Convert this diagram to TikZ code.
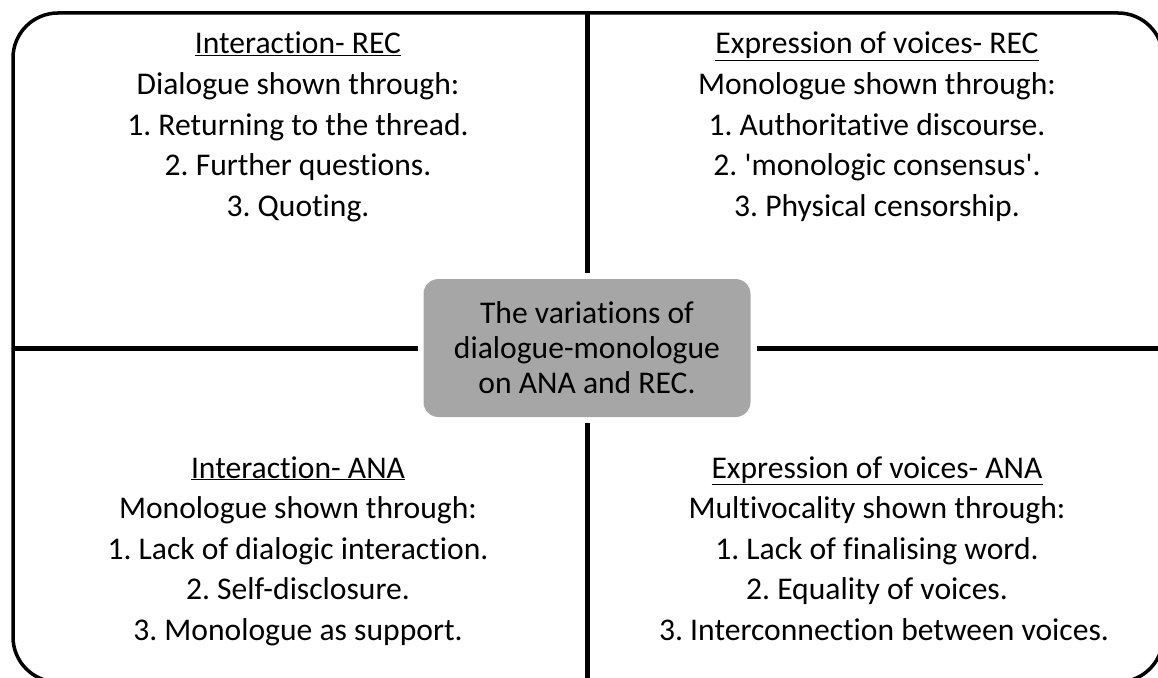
\documentclass[tikz,border=0pt]{standalone}
\usepackage{fontspec}
\setmainfont{Carlito}[Ligatures={NoCommon}]
\definecolor{hubgray}{HTML}{A6A6A6}
\newcommand\hdr[1]{\underline{#1}}
\frenchspacing
\begin{document}
\begin{tikzpicture}[x=1pt,y=-1pt,
  txt/.style={anchor=base, inner sep=0pt, font=\fontsize{31.6}{38}\selectfont},
  divider/.style={line width=5pt},
  frameline/.style={line width=3.5pt, rounded corners=45pt},
  hubbox/.style={fill=hubgray, rounded corners=15pt, minimum width=327pt, minimum height=138pt,
    inner sep=0pt, outer sep=6pt, align=center, font=\fontsize{31.6}{35}\selectfont}]
\useasboundingbox (0,0) rectangle (1158,677);
\clip (0,0) rectangle (1158,677);
\draw[frameline] (13,13) rectangle (1163,682);
\node[hubbox] (hub) at (587,348) {The variations of\\dialogue-monologue\\on ANA and REC.};
\coordinate (ftop) at (587,13);
\coordinate (fbot) at (587,682);
\coordinate (fleft) at (13,348);
\coordinate (fright) at (1163,348);
\draw[divider] (hub.north) -- (ftop);
\draw[divider] (hub.south) -- (fbot);
\draw[divider] (hub.west) -- (fleft);
\draw[divider] (hub.east) -- (fright);
% top left
\node[txt] (tl1) at (298,54) {\hdr{Interaction- REC}};
\node[txt] (tl2) at (298,94.5) {Dialogue shown through:};
\node[txt] (tl3) at (298,135) {1. Returning to the thread.};
\node[txt] (tl4) at (298,175.5) {2. Further questions.};
\node[txt] (tl5) at (298,216) {3. Quoting.};
% top right
\node[txt] (tr1) at (877,54) {\hdr{Expression of voices- REC}};
\node[txt] (tr2) at (877,94.5) {Monologue shown through:};
\node[txt] (tr3) at (877,135) {1. Authoritative discourse.};
\node[txt] (tr4) at (877,175.5) {2. \textquotesingle monologic consensus\textquotesingle.};
\node[txt] (tr5) at (877,216) {3. Physical censorship.};
% bottom left
\node[txt] (bl1) at (298,478) {\hdr{Interaction- ANA}};
\node[txt] (bl2) at (298,518.5) {Monologue shown through:};
\node[txt] (bl3) at (298,559) {1. Lack of dialogic interaction.};
\node[txt] (bl4) at (298,599.5) {2. Self-disclosure.};
\node[txt] (bl5) at (298,640) {3. Monologue as support.};
% bottom right
\node[txt] (br1) at (877,478) {\hdr{Expression of voices- ANA}};
\node[txt] (br2) at (877,518.5) {Multivocality shown through:};
\node[txt] (br3) at (877,559) {1. Lack of finalising word.};
\node[txt] (br4) at (877,599.5) {2. Equality of voices.};
\node[txt] (br5) at (884,640) {3. Interconnection between voices.};
\end{tikzpicture}
\end{document}
